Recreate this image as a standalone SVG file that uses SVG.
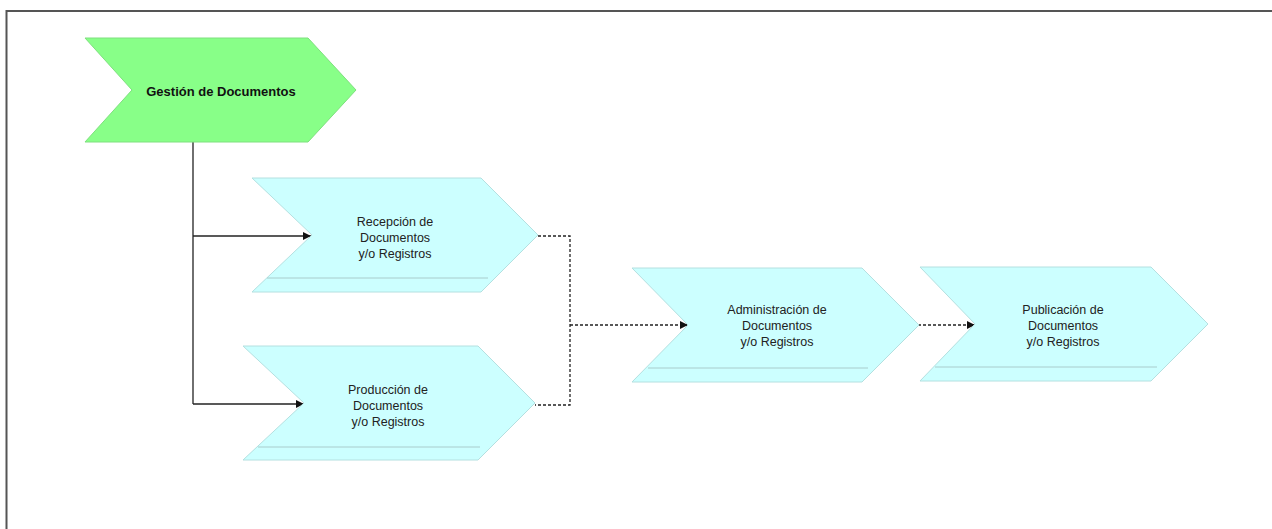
<svg xmlns="http://www.w3.org/2000/svg" width="1272" height="529" viewBox="0 0 1272 529">
<style>
.frame{stroke:#555;stroke-width:2;fill:none}
.green{fill:#88FF88;stroke:#7ee07e;stroke-width:1}
.cyan{fill:#CCFFFF;stroke:#b4e0e0;stroke-width:1}
.inner{stroke:#a9cccc;stroke-width:1;fill:none}
.lbl{font-family:"Liberation Sans",Arial,sans-serif;font-size:12.5px;fill:#222;text-anchor:middle}
.bold{font-weight:bold;font-size:13px;fill:#111}
.solid{stroke:#222;stroke-width:1.3;fill:none}
.dash{stroke:#222;stroke-width:1.3;fill:none;stroke-dasharray:3 2}
</style>
<defs>
<marker id="ah" viewBox="0 0 10 10" refX="10" refY="5" markerWidth="8" markerHeight="8" markerUnits="userSpaceOnUse" orient="auto">
<path d="M0,0 L10,5 L0,10 z" fill="#111"/>
</marker>
</defs>
<rect width="1272" height="529" fill="#fff"/>
<path class="frame" d="M6.5,529 V11 H1272"/>

<g id="connectors">
<path class="solid" d="M193,142 V404"/>
<path class="solid" d="M193,236 H311" marker-end="url(#ah)"/>
<path class="solid" d="M193,404 H304" marker-end="url(#ah)"/>
<path class="dash" d="M538,236 H570 V405 H535"/>
<path class="dash" d="M570,325 H688" marker-end="url(#ah)"/>
<path class="dash" d="M918,325 H975" marker-end="url(#ah)"/>
</g>

<g id="gestion">
<polygon class="green" points="85,38 308,38 356,90 308,142 85,142 132,90"/>
<text class="lbl bold" x="221" y="96">Gestión de Documentos</text>
</g>

<g id="recepcion">
<polygon class="cyan" points="252,178 481,178 538,235 481,292 252,292 312,235"/>
<line class="inner" x1="267" y1="278" x2="488" y2="278"/>
<text class="lbl" x="395" y="226">Recepción de</text>
<text class="lbl" x="395" y="242">Documentos</text>
<text class="lbl" x="395" y="258">y/o Registros</text>
</g>

<g id="produccion">
<polygon class="cyan" points="243,346 478,346 535,403 478,460 243,460 304,403"/>
<line class="inner" x1="258" y1="447" x2="480" y2="447"/>
<text class="lbl" x="388" y="394">Producción de</text>
<text class="lbl" x="388" y="410">Documentos</text>
<text class="lbl" x="388" y="426">y/o Registros</text>
</g>

<g id="administracion">
<polygon class="cyan" points="632,268 862,268 919,325 862,382 632,382 688,325"/>
<line class="inner" x1="648" y1="368" x2="868" y2="368"/>
<text class="lbl" x="777" y="314">Administración de</text>
<text class="lbl" x="777" y="330">Documentos</text>
<text class="lbl" x="777" y="346">y/o Registros</text>
</g>

<g id="publicacion">
<polygon class="cyan" points="920,267 1151,267 1208,324 1151,381 920,381 975,324"/>
<line class="inner" x1="935" y1="367" x2="1157" y2="367"/>
<text class="lbl" x="1063" y="314">Publicación de</text>
<text class="lbl" x="1063" y="330">Documentos</text>
<text class="lbl" x="1063" y="346">y/o Registros</text>
</g>
</svg>
